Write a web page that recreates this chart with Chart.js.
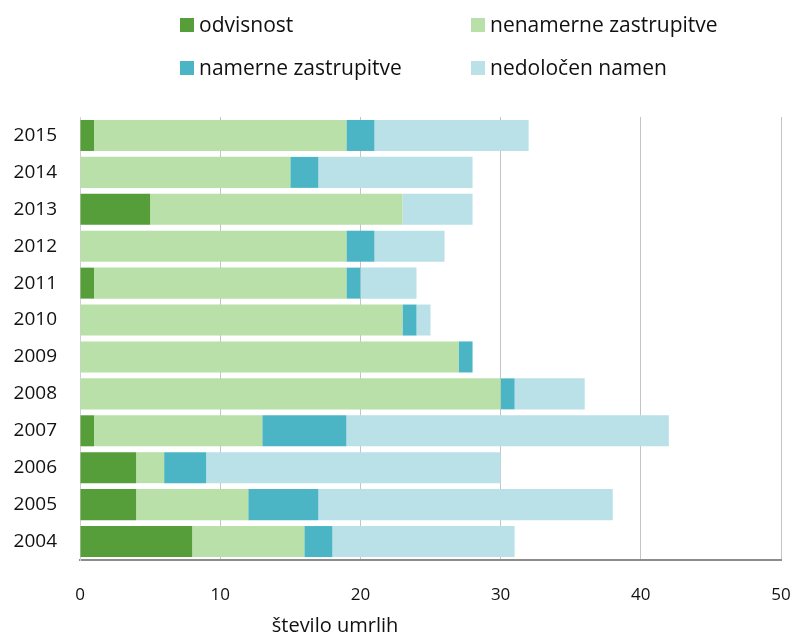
<!DOCTYPE html>
<html>
<head>
<meta charset="utf-8">
<script src="https://cdn.jsdelivr.net/npm/chart.js@4/dist/chart.umd.min.js"></script>
<style>
  html, body { margin: 0; padding: 0; background: #fff; }
  #wrap { position: relative; width: 796px; height: 636px; }
  canvas { position: absolute; left: 0; top: 0; }
  .box { position: absolute; width: 14px; height: 14px; }
  .txt { position: absolute; font-family: "Open Sans", sans-serif; font-size: 21px; color: #111; white-space: nowrap; line-height: 24px; }
</style>
</head>
<body>
<div id="wrap">
  <canvas id="c" width="796" height="636"></canvas>
  <div id="legend"></div>
</div>
<script>
// Years, top to bottom
const years = ['2015', '2014', '2013', '2012', '2011', '2010', '2009', '2008', '2007', '2006', '2005', '2004'];

// Deaths by cause, per year
const odvisnost   = [1, 0, 5, 0, 1, 0, 0, 0, 1, 4, 4, 8];
const nenamerne   = [18, 15, 18, 19, 18, 23, 27, 30, 12, 2, 8, 8];
const namerne     = [2, 2, 0, 2, 1, 1, 1, 1, 6, 3, 5, 2];
const nedolocen   = [11, 11, 5, 5, 4, 1, 0, 5, 23, 21, 21, 13];

const xTicks = [0, 10, 20, 30, 40, 50];
const seriesNames = ['odvisnost', 'nenamerne zastrupitve', 'namerne zastrupitve', 'nedoločen namen'];
const colors = ['#559e3a', '#b8e0a8', '#4bb5c5', '#b9e1e7'];

const FONT = '"Open Sans", sans-serif';

// Legend laid out as a 2x2 grid above the plot: [box left, box top]
const legendPos = [[180, 18], [471, 18], [180, 61], [471, 61]];
const legendEl = document.getElementById('legend');
seriesNames.forEach((name, i) => {
  const [x, y] = legendPos[i];
  const b = document.createElement('div');
  b.className = 'box';
  b.style.left = x + 'px';
  b.style.top = y + 'px';
  b.style.background = colors[i];
  legendEl.appendChild(b);
  const t = document.createElement('div');
  t.className = 'txt';
  t.style.left = (x + 19) + 'px';
  t.style.top = (y - 6) + 'px';
  t.textContent = name;
  legendEl.appendChild(t);
});

const axisTitle = {
  id: 'axisTitle',
  afterDraw(chart) {
    const ctx = chart.ctx;
    ctx.save();
    ctx.font = '20px ' + FONT;
    ctx.fillStyle = '#111';
    ctx.textAlign = 'center';
    ctx.textBaseline = 'middle';
    ctx.fillText('število umrlih', 335, 626);
    ctx.restore();
  }
};

new Chart(document.getElementById('c'), {
  type: 'bar',
  data: {
    labels: years,
    datasets: [odvisnost, nenamerne, namerne, nedolocen].map((d, i) => ({
      label: seriesNames[i],
      data: d,
      backgroundColor: colors[i],
      borderWidth: 0,
      categoryPercentage: 0.84,
      barPercentage: 1.0
    }))
  },
  options: {
    indexAxis: 'y',
    responsive: false,
    animation: false,
    devicePixelRatio: 1,
    layout: { padding: { top: 117, right: 0, left: 0, bottom: 0 } },
    plugins: { legend: { display: false }, tooltip: { enabled: false } },
    scales: {
      x: {
        stacked: true,
        min: 0,
        max: 50,
        afterBuildTicks(scale) { scale.ticks = xTicks.map(v => ({ value: v })); },
        afterFit(scale) { scale.height = 76; scale.paddingRight = 15; },
        grid: { color: '#c4c4c4', lineWidth: 1, drawTicks: false },
        border: { display: true, color: '#8c8c8c', width: 2 },
        ticks: { padding: 25, color: '#111', font: { family: FONT, size: 17 } }
      },
      y: {
        stacked: true,
        afterFit(scale) { scale.width = 80; },
        grid: { display: false, drawTicks: false },
        border: { display: true, color: '#d0d0d0', width: 1 },
        ticks: { padding: 23, color: '#111', font: { family: FONT, size: 19 } }
      }
    }
  },
  plugins: [axisTitle]
});
</script>
</body>
</html>
